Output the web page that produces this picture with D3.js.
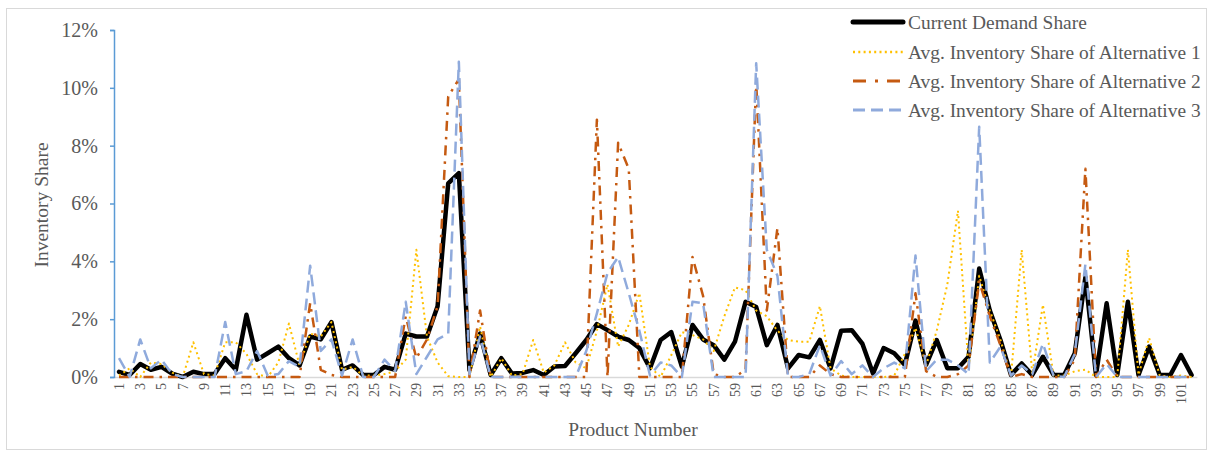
<!DOCTYPE html>
<html>
<head>
<meta charset="utf-8">
<script src="https://cdn.jsdelivr.net/npm/d3@7"></script>
<style>
  body { margin: 0; background: #fff; }
  text { font-family: "Liberation Serif", "Times New Roman", serif; fill: #595959; }
</style>
</head>
<body>
<script>
// Inventory share per product: current demand vs. three alternatives (values in %)

const w = 1207;
const h = 457;

const products = d3.range(1, 103);

const demand = [0.18,0.07,0.45,0.25,0.35,0.12,0.0,0.18,0.1,0.1,
  0.65,0.25,2.15,0.6,0.82,1.05,0.65,0.4,1.4,1.3,
  1.9,0.25,0.4,0.07,0.07,0.35,0.25,1.5,1.4,1.4,
  2.45,6.7,7.05,0.24,1.5,0.07,0.65,0.12,0.14,0.24,
  0.07,0.36,0.38,0.82,1.28,1.83,1.62,1.4,1.28,1.0,
  0.3,1.28,1.55,0.36,1.8,1.3,1.1,0.6,1.22,2.6,
  2.42,1.1,1.8,0.3,0.76,0.68,1.28,0.3,1.6,1.62,
  1.15,0.12,1.0,0.82,0.42,1.95,0.42,1.28,0.3,0.3,
  0.7,3.75,2.3,1.28,0.07,0.47,0.07,0.7,0.07,0.07,
  0.82,3.45,0.07,2.55,0.07,2.6,0.07,1.05,0.07,0.07,
  0.76,0.07];

const alt1 = [0.05,0.3,0.0,0.5,0.45,0.15,0.0,1.2,0.1,0.05,
  1.2,1.2,0.8,0.1,0.0,0.5,1.85,0.4,1.5,1.4,
  1.9,0.25,0.35,0.05,0.05,0.1,0.2,0.6,4.4,1.4,
  0.5,0.03,0,0,1.75,0,0.65,0.05,0.1,1.28,
  0.15,0.4,1.2,0.5,0.3,1.6,3.2,1.05,1.8,2.9,
  0.35,0.0,0.75,1.55,1.45,1.3,0.9,2.1,3.1,3.0,
  2.3,2.1,1.6,1.28,1.22,1.22,2.45,0.3,0.05,0.0,
  0.0,0.0,0.0,0.05,0.8,1.7,0.4,1.6,3.2,5.75,
  0.3,3.5,2.3,1.28,0.05,4.4,0.1,2.5,0.05,0.05,
  0.2,0.25,0,0,0,4.4,0.07,1.35,0.05,0,
  0.05,0];

const alt2 = [0,0,0,0,0,0,0,0,0,0,
  0,0,0,0,0,0,0,0,2.55,0.25,
  0.07,0,0,0,0,0,0,2.1,0.65,1.3,
  2.45,9.7,10.3,0,2.3,0,0,0,0,0,
  0,0,0,0,0,8.9,0,8.1,7.2,0,
  0,0,0,0,4.15,2.8,0.1,0,0,0.25,
  10.2,2.3,5.15,0,0,0,0.4,0.1,0,0,
  0,0,0,0,0,2.9,0.2,0,0,0.1,
  0.4,3.3,2.1,1.1,0,0.1,0,0,0,0,
  0.6,7.2,0,0.6,0,0,0,0,0,0,
  0,0];

const alt3 = [0.65,0.0,1.3,0.3,0.6,0.1,0,0,0,0,
  1.9,0.1,0.2,0.9,0.05,0.1,0.55,0.35,3.85,0.9,
  1.3,0.05,1.3,0,0,0.6,0.2,2.6,0.1,0.7,
  1.3,1.5,10.9,0.1,1.4,0,0,0,0,0,
  0,0,0,0,0.9,2.2,3.6,4.15,2.9,1.6,
  0.05,0.5,0.4,0,2.6,2.55,0,0,0,0,
  10.85,4.4,3.5,0,0,0.1,1.1,0.05,0.55,0.1,
  0.4,0,0.3,0.5,0.3,4.2,0.2,0.6,0.6,0.4,
  0.1,8.65,0.5,1.05,0.05,0.4,0.1,1.15,0.05,0,
  0.8,3.9,0,0.45,0,0,0,0,0,0,
  0,0];

const yTicks = [0, 2, 4, 6, 8, 10, 12];
const xTickLabels = products.filter(d => d % 2 === 1);

const seriesNames = [
  "Current Demand Share",
  "Avg. Inventory Share of Alternative 1",
  "Avg. Inventory Share of Alternative 2",
  "Avg. Inventory Share of Alternative 3"
];

// line looks, in the same order as seriesNames
const styles = [
  { color: "#000000", width: 4.5, dash: null },
  { color: "#ffc000", width: 2, dash: "2,3.3" },
  { color: "#c55a11", width: 2.5, dash: "10,6,2.5,6" },
  { color: "#8faadc", width: 2.5, dash: "12,6" }
];

const svg = d3.select("body")
  .append("svg")
  .attr("width", w)
  .attr("height", h);

// chart border
svg.append("rect")
  .attr("x", 6.5).attr("y", 8.5)
  .attr("width", 1200).attr("height", 441)
  .attr("fill", "none")
  .attr("stroke", "#d9d9d9");

const x_scale = d3.scaleBand()
  .domain(products)
  .range([113.7, 1196.9]);

const y_scale = d3.scaleLinear()
  .domain([0, 12])
  .range([377, 30]);

const px = d => x_scale(d) + x_scale.bandwidth() / 2;

// x axis line + rotated labels
const x_axis = d3.axisBottom(x_scale)
  .tickValues(xTickLabels)
  .tickSize(0)
  .tickSizeOuter(0);

const xg = svg.append("g")
  .attr("class", "x axis")
  .attr("transform", `translate(0,${y_scale(0)})`)
  .call(x_axis);

xg.select(".domain").attr("stroke", "#d9d9d9").attr("stroke-width", 1.5);
xg.selectAll("text")
  .attr("font-size", 14)
  .attr("fill", "#595959")
  .attr("text-anchor", "end")
  .attr("transform", "rotate(-90)")
  .attr("x", -6)
  .attr("y", 0)
  .attr("dy", "0.35em");

// y axis
const y_axis = d3.axisLeft(y_scale)
  .tickValues(yTicks)
  .tickSize(4)
  .tickSizeOuter(4)
  .tickFormat(d => d + "%");

const yg = svg.append("g")
  .attr("class", "y axis")
  .attr("transform", "translate(114,0)")
  .call(y_axis);

yg.select(".domain").attr("stroke", "#5b9bd5").attr("stroke-width", 1.5);
yg.selectAll(".tick line").attr("stroke", "#5b9bd5").attr("stroke-width", 1.5);
yg.selectAll("text")
  .attr("font-size", 20)
  .attr("fill", "#595959")
  .attr("x", -16);

// axis titles
svg.append("text")
  .attr("x", 633).attr("y", 436)
  .attr("text-anchor", "middle")
  .attr("font-size", 19.5)
  .text("Product Number");

svg.append("text")
  .attr("transform", "translate(48,205) rotate(-90)")
  .attr("text-anchor", "middle")
  .attr("font-size", 19.5)
  .text("Inventory Share");

// series lines
const line = d3.line()
  .x((d, i) => px(products[i]))
  .y(d => y_scale(d));

const allSeries = [demand, alt1, alt2, alt3];

allSeries.forEach((values, k) => {
  const s = styles[k];
  svg.append("path")
    .datum(values)
    .attr("d", line)
    .attr("fill", "none")
    .attr("stroke", s.color)
    .attr("stroke-width", s.width)
    .attr("stroke-linejoin", "round")
    .attr("stroke-linecap", k === 0 ? "round" : "butt")
    .attr("stroke-dasharray", s.dash);
});

// legend
const legend = svg.append("g").attr("class", "legend");
const rowY = [22, 52, 81, 110];

seriesNames.forEach((name, k) => {
  const s = styles[k];
  legend.append("line")
    .attr("x1", 853).attr("x2", 903)
    .attr("y1", rowY[k]).attr("y2", rowY[k])
    .attr("stroke", s.color)
    .attr("stroke-width", k === 0 ? 5 : s.width + 0.5)
    .attr("stroke-linecap", k === 0 ? "round" : "butt")
    .attr("stroke-dasharray", k === 2 ? "13,9,3,9" : s.dash);
  legend.append("text")
    .attr("x", 908).attr("y", rowY[k])
    .attr("dy", "0.35em")
    .attr("font-size", 19.4)
    .text(name);
});
</script>
</body>
</html>
